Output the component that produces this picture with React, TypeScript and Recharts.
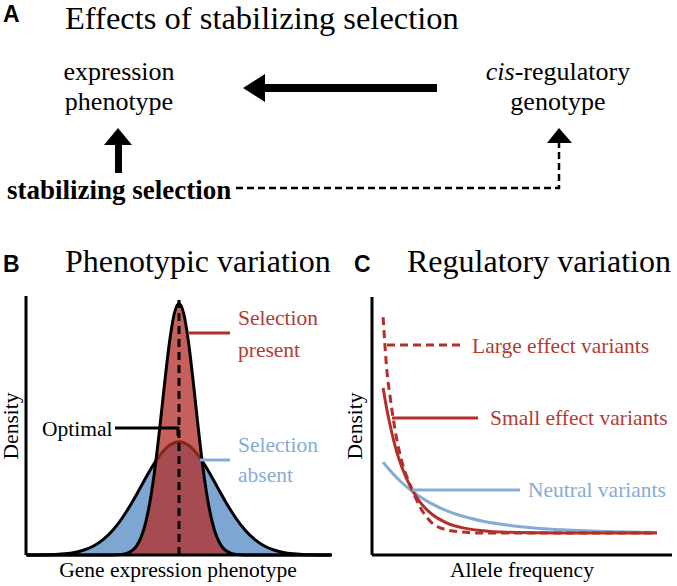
import { AreaChart, Area, LineChart, Line, XAxis, YAxis, ReferenceLine } from 'recharts';

// panel B: expression phenotype (centred on the optimum) and density
const phenotype = [-4, -3.75, -3.5, -3.25, -3, -2.75, -2.5, -2.25, -2, -1.75, -1.5, -1.375, -1.25, -1.125, -1, -0.875, -0.75, -0.625, -0.5, -0.375, -0.25, -0.125, 0, 0.125, 0.25, 0.375, 0.5, 0.625, 0.75, 0.875, 1, 1.125, 1.25, 1.375, 1.5, 1.75, 2, 2.25, 2.5, 2.75, 3, 3.25, 3.5, 3.75, 4];
const selectionAbsent = [0.0002, 0.0004, 0.001, 0.0023, 0.005, 0.0103, 0.0198, 0.0358, 0.0609, 0.0973, 0.1461, 0.1749, 0.206, 0.239, 0.2729, 0.3069, 0.3397, 0.3702, 0.3971, 0.4194, 0.4361, 0.4465, 0.45, 0.4465, 0.4361, 0.4194, 0.3971, 0.3702, 0.3397, 0.3069, 0.2729, 0.239, 0.206, 0.1749, 0.1461, 0.0973, 0.0609, 0.0358, 0.0198, 0.0103, 0.005, 0.0023, 0.001, 0.0004, 0.0002];
const selectionPresent = [0, 0, 0, 0, 0, 0, 0, 0, 0, 0.0003, 0.0025, 0.0066, 0.0158, 0.0347, 0.0703, 0.131, 0.2246, 0.3545, 0.5149, 0.6884, 0.8471, 0.9594, 1, 0.9594, 0.8471, 0.6884, 0.5149, 0.3545, 0.2246, 0.131, 0.0703, 0.0347, 0.0158, 0.0066, 0.0025, 0.0003, 0, 0, 0, 0, 0, 0, 0, 0, 0];

// panel C: allele frequency and density
const alleleFreq = [0.037, 0.05, 0.06, 0.083, 0.1, 0.13, 0.16, 0.2, 0.25, 0.3, 0.37, 0.45, 0.55, 0.65, 0.75, 0.85, 0.95];
const largeEffect = [0.922, 0.709, 0.616, 0.446, 0.36, 0.264, 0.186, 0.124, 0.097, 0.089, 0.085, 0.085, 0.085, 0.085, 0.085, 0.085, 0.085];
const smallEffect = [0.647, 0.561, 0.505, 0.398, 0.339, 0.26, 0.205, 0.158, 0.124, 0.106, 0.094, 0.088, 0.086, 0.085, 0.085, 0.085, 0.085];
const neutral = [0.36, 0.341, 0.328, 0.299, 0.28, 0.251, 0.226, 0.198, 0.171, 0.151, 0.131, 0.116, 0.104, 0.097, 0.092, 0.089, 0.087];

const serif = '"Liberation Serif", "Times New Roman", serif';
const sans = '"Liberation Sans", Arial, sans-serif';
const red = '#b42e2a';
const redText = '#b23b36';
const blue = '#7ea6d2';
const blueLine = '#86abd6';

const phenoData = phenotype.map((x, i) => ({ x, absent: selectionAbsent[i], present: selectionPresent[i] }));
const freqData = alleleFreq.map((x, i) => ({ x, large: largeEffect[i], small: smallEffect[i], neutral: neutral[i] }));

export default function App() {
  return (
    <div style={{ position: 'absolute', left: 0, top: 0, width: 677, height: 586, background: '#fff' }}>
      <div style={{ position: 'absolute', left: 0, top: 280 }}>
        <AreaChart width={350} height={290} data={phenoData} margin={{ top: 16, right: 18, bottom: 15, left: 26 }}>
          <XAxis dataKey="x" type="number" domain={[-4.03, 4.03]} hide />
          <YAxis type="number" domain={[0, 1.03]} hide />
          <Area type="monotone" dataKey="absent" stroke="#000" strokeWidth={3} fill={blue} fillOpacity={1} isAnimationActive={false} />
          <Area type="monotone" dataKey="present" stroke="#000" strokeWidth={3} fill={red} fillOpacity={0.76} isAnimationActive={false} />
          <ReferenceLine x={0} stroke="#000" strokeWidth={3} strokeDasharray="8 5" />
          <ReferenceLine x={-4.03} stroke="#000" strokeWidth={3} />
          <ReferenceLine y={0} stroke="#000" strokeWidth={3} />
        </AreaChart>
      </div>
      <div style={{ position: 'absolute', left: 340, top: 280 }}>
        <LineChart width={340} height={290} data={freqData} margin={{ top: 17, right: 8, bottom: 15, left: 32 }}>
          <XAxis dataKey="x" type="number" domain={[0, 1]} hide />
          <YAxis type="number" domain={[0, 1]} hide />
          <ReferenceLine x={0} stroke="#000" strokeWidth={3} />
          <ReferenceLine y={0} stroke="#000" strokeWidth={3} />
          <Line type="monotone" dataKey="neutral" stroke={blueLine} strokeWidth={3} dot={false} isAnimationActive={false} />
          <Line type="monotone" dataKey="small" stroke={red} strokeWidth={3} dot={false} isAnimationActive={false} />
          <Line type="monotone" dataKey="large" stroke={red} strokeWidth={3} strokeDasharray="8 5" dot={false} isAnimationActive={false} />
        </LineChart>
      </div>

      <svg width={677} height={586} style={{ position: 'absolute', left: 0, top: 0, pointerEvents: 'none' }}>
        {/* panel A */}
        <text x={3} y={22} fontFamily={sans} fontWeight="bold" fontSize={23}>A</text>
        <text x={65} y={29} fontFamily={serif} fontSize={32.5}>Effects of stabilizing selection</text>
        <g fontFamily={serif} fontSize={26} textAnchor="middle">
          <text x={119} y={80}>expression</text>
          <text x={119} y={110}>phenotype</text>
          <text x={558} y={80}><tspan fontStyle="italic">cis</tspan>-regulatory</text>
          <text x={558} y={110}>genotype</text>
        </g>
        <text x={7} y={199} fontFamily={serif} fontSize={27} fontWeight="bold">stabilizing selection</text>
        <polygon points="243,88 265,74 265,102" fill="#000" />
        <rect x={263} y={84} width={174} height={8} fill="#000" />
        <polygon points="118,128 104,145 132,145" fill="#000" />
        <rect x={115} y={143} width={7} height={30} fill="#000" />
        <path d="M236 188 H559 V143" fill="none" stroke="#000" strokeWidth={2.5} strokeDasharray="7 4" />
        <polygon points="559,128 547,143 572,143" fill="#000" />

        {/* panel B */}
        <text x={3} y={272} fontFamily={sans} fontWeight="bold" fontSize={23}>B</text>
        <text x={65} y={272} fontFamily={serif} fontSize={32}>Phenotypic variation</text>
        <g fontFamily={serif} fontSize={21.5}>
          <text x={238} y={325} fill={redText}>Selection</text>
          <text x={238} y={357} fill={redText}>present</text>
          <text x={238} y={452} fill={blueLine}>Selection</text>
          <text x={238} y={482} fill={blueLine}>absent</text>
          <text x={42} y={436}>Optimal</text>
          <text x={178} y={577} textAnchor="middle">Gene expression phenotype</text>
          <text transform="translate(18,426) rotate(-90)" textAnchor="middle">Density</text>
        </g>
        <line x1={188} y1={333} x2={230} y2={333} stroke={red} strokeWidth={3} />
        <line x1={200} y1={460} x2={230} y2={460} stroke={blueLine} strokeWidth={3} />
        <path d="M115 428 H178 V436" fill="none" stroke="#000" strokeWidth={3} />

        {/* panel C */}
        <text x={354} y={272} fontFamily={sans} fontWeight="bold" fontSize={23}>C</text>
        <text x={407} y={272} fontFamily={serif} fontSize={32}>Regulatory variation</text>
        <g fontFamily={serif} fontSize={21.5}>
          <text x={472} y={353} fill={redText}>Large effect variants</text>
          <text x={490} y={425} fill={redText}>Small effect variants</text>
          <text x={528} y={497} fill={blueLine}>Neutral variants</text>
          <text x={522} y={577} textAnchor="middle">Allele frequency</text>
          <text transform="translate(362,426) rotate(-90)" textAnchor="middle">Density</text>
        </g>
        <line x1={387} y1={345} x2={463} y2={345} stroke={red} strokeWidth={3} strokeDasharray="8 5" />
        <line x1={392} y1={418} x2={478} y2={418} stroke={red} strokeWidth={3} />
        <line x1={412} y1={490} x2={520} y2={490} stroke={blueLine} strokeWidth={3} />
      </svg>
    </div>
  );
}
